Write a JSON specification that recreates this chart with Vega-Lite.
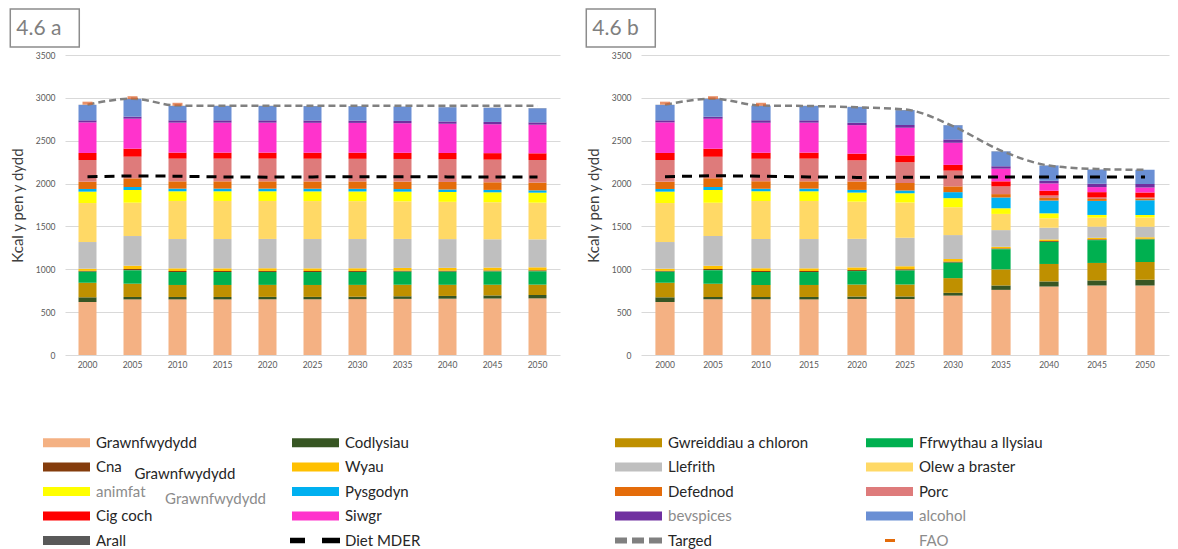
{
  "$schema": "https://vega.github.io/schema/vega-lite/v6.json",
  "background": "white",
  "padding": {"left": 10, "top": 18, "right": 5, "bottom": 0},
  "config": {
    "font": "Lato",
    "view": {"stroke": null},
    "legend": {"labelFont": "Lato"}
  },
  "datasets": {
    "cats": [
      {"cat":"Grawnfwydydd","k":1},{"cat":"Codlysiau","k":2},{"cat":"Gwreiddiau a chloron","k":3},{"cat":"Ffrwythau a llysiau","k":4},{"cat":"Cna","k":5},{"cat":"Wyau","k":6},{"cat":"Llefrith","k":7},{"cat":"Olew a braster","k":8},{"cat":"animfat","k":9},{"cat":"Pysgodyn","k":10},{"cat":"Defednod","k":11},{"cat":"Porc","k":12},{"cat":"Cig coch","k":13},{"cat":"Siwgr","k":14},{"cat":"bevspices","k":15},{"cat":"alcohol","k":16},{"cat":"Arall","k":17}
    ],
    "bars": [
      {"p":"a","yr":"2000","Grawnfwydydd":618,"Codlysiau":55,"Cna":10,"Gwreiddiau a chloron":170,"Ffrwythau a llysiau":129,"Wyau":25,"Llefrith":311,"Olew a braster":455,"animfat":133,"Pysgodyn":31,"Defednod":85,"Porc":253,"Cig coch":82,"Siwgr":357,"bevspices":24,"alcohol":179,"Arall":2},
      {"p":"a","yr":"2005","Grawnfwydydd":649,"Codlysiau":28,"Cna":15,"Gwreiddiau a chloron":155,"Ffrwythau a llysiau":156,"Wyau":39,"Llefrith":346,"Olew a braster":389,"animfat":148,"Pysgodyn":35,"Defednod":101,"Porc":253,"Cig coch":93,"Siwgr":350,"bevspices":24,"alcohol":206,"Arall":2},
      {"p":"a","yr":"2010","Grawnfwydydd":649,"Codlysiau":28,"Cna":12,"Gwreiddiau a chloron":140,"Ffrwythau a llysiau":151,"Wyau":31,"Llefrith":342,"Olew a braster":444,"animfat":113,"Pysgodyn":31,"Defednod":85,"Porc":265,"Cig coch":70,"Siwgr":350,"bevspices":27,"alcohol":167,"Arall":2},
      {"p":"a","yr":"2015","Grawnfwydydd":649,"Codlysiau":28,"Cna":12,"Gwreiddiau a chloron":140,"Ffrwythau a llysiau":151,"Wyau":31,"Llefrith":342,"Olew a braster":444,"animfat":113,"Pysgodyn":31,"Defednod":85,"Porc":265,"Cig coch":70,"Siwgr":350,"bevspices":27,"alcohol":167,"Arall":2},
      {"p":"a","yr":"2020","Grawnfwydydd":650,"Codlysiau":28,"Cna":12,"Gwreiddiau a chloron":140,"Ffrwythau a llysiau":151,"Wyau":31,"Llefrith":342,"Olew a braster":443,"animfat":113,"Pysgodyn":31,"Defednod":85,"Porc":265,"Cig coch":70,"Siwgr":350,"bevspices":27,"alcohol":167,"Arall":2},
      {"p":"a","yr":"2025","Grawnfwydydd":650,"Codlysiau":28,"Cna":12,"Gwreiddiau a chloron":139,"Ffrwythau a llysiau":151,"Wyau":31,"Llefrith":342,"Olew a braster":443,"animfat":113,"Pysgodyn":31,"Defednod":85,"Porc":265,"Cig coch":70,"Siwgr":349,"bevspices":27,"alcohol":167,"Arall":2},
      {"p":"a","yr":"2030","Grawnfwydydd":652,"Codlysiau":28,"Cna":12,"Gwreiddiau a chloron":138,"Ffrwythau a llysiau":151,"Wyau":31,"Llefrith":341,"Olew a braster":442,"animfat":113,"Pysgodyn":31,"Defednod":86,"Porc":264,"Cig coch":71,"Siwgr":348,"bevspices":27,"alcohol":167,"Arall":2},
      {"p":"a","yr":"2035","Grawnfwydydd":655,"Codlysiau":30,"Cna":12,"Gwreiddiau a chloron":135,"Ffrwythau a llysiau":152,"Wyau":32,"Llefrith":338,"Olew a braster":438,"animfat":114,"Pysgodyn":30,"Defednod":87,"Porc":264,"Cig coch":72,"Siwgr":345,"bevspices":27,"alcohol":166,"Arall":2},
      {"p":"a","yr":"2040","Grawnfwydydd":657,"Codlysiau":32,"Cna":12,"Gwreiddiau a chloron":130,"Ffrwythau a llysiau":153,"Wyau":33,"Llefrith":335,"Olew a braster":435,"animfat":115,"Pysgodyn":29,"Defednod":88,"Porc":264,"Cig coch":74,"Siwgr":341,"bevspices":27,"alcohol":165,"Arall":2},
      {"p":"a","yr":"2045","Grawnfwydydd":659,"Codlysiau":36,"Cna":12,"Gwreiddiau a chloron":125,"Ffrwythau a llysiau":154,"Wyau":34,"Llefrith":330,"Olew a braster":432,"animfat":116,"Pysgodyn":28,"Defednod":89,"Porc":264,"Cig coch":76,"Siwgr":337,"bevspices":27,"alcohol":165,"Arall":2},
      {"p":"a","yr":"2050","Grawnfwydydd":661,"Codlysiau":39,"Cna":12,"Gwreiddiau a chloron":121,"Ffrwythau a llysiau":155,"Wyau":35,"Llefrith":326,"Olew a braster":428,"animfat":117,"Pysgodyn":27,"Defednod":90,"Porc":264,"Cig coch":78,"Siwgr":334,"bevspices":27,"alcohol":164,"Arall":2},
      {"p":"b","yr":"2000","Grawnfwydydd":618,"Codlysiau":55,"Cna":10,"Gwreiddiau a chloron":170,"Ffrwythau a llysiau":129,"Wyau":25,"Llefrith":311,"Olew a braster":455,"animfat":133,"Pysgodyn":31,"Defednod":85,"Porc":253,"Cig coch":82,"Siwgr":357,"bevspices":24,"alcohol":179,"Arall":2},
      {"p":"b","yr":"2005","Grawnfwydydd":649,"Codlysiau":28,"Cna":15,"Gwreiddiau a chloron":155,"Ffrwythau a llysiau":156,"Wyau":39,"Llefrith":346,"Olew a braster":389,"animfat":148,"Pysgodyn":35,"Defednod":101,"Porc":253,"Cig coch":93,"Siwgr":350,"bevspices":24,"alcohol":206,"Arall":2},
      {"p":"b","yr":"2010","Grawnfwydydd":649,"Codlysiau":28,"Cna":12,"Gwreiddiau a chloron":140,"Ffrwythau a llysiau":151,"Wyau":31,"Llefrith":342,"Olew a braster":444,"animfat":113,"Pysgodyn":31,"Defednod":85,"Porc":265,"Cig coch":70,"Siwgr":350,"bevspices":27,"alcohol":167,"Arall":2},
      {"p":"b","yr":"2015","Grawnfwydydd":649,"Codlysiau":28,"Cna":12,"Gwreiddiau a chloron":140,"Ffrwythau a llysiau":151,"Wyau":31,"Llefrith":342,"Olew a braster":444,"animfat":113,"Pysgodyn":31,"Defednod":85,"Porc":265,"Cig coch":70,"Siwgr":350,"bevspices":27,"alcohol":167,"Arall":2},
      {"p":"b","yr":"2020","Grawnfwydydd":654,"Codlysiau":28,"Cna":12,"Gwreiddiau a chloron":140,"Ffrwythau a llysiau":157,"Wyau":31,"Llefrith":333,"Olew a braster":434,"animfat":106,"Pysgodyn":31,"Defednod":98,"Porc":247,"Cig coch":78,"Siwgr":333,"bevspices":27,"alcohol":184,"Arall":2},
      {"p":"b","yr":"2025","Grawnfwydydd":654,"Codlysiau":28,"Cna":13,"Gwreiddiau a chloron":141,"Ffrwythau a llysiau":164,"Wyau":34,"Llefrith":333,"Olew a braster":412,"animfat":109,"Pysgodyn":32,"Defednod":86,"Porc":243,"Cig coch":78,"Siwgr":325,"bevspices":32,"alcohol":172,"Arall":2},
      {"p":"b","yr":"2030","Grawnfwydydd":693,"Codlysiau":32,"Cna":13,"Gwreiddiau a chloron":172,"Ffrwythau a llysiau":180,"Wyau":30,"Llefrith":279,"Olew a braster":325,"animfat":106,"Pysgodyn":70,"Defednod":67,"Porc":184,"Cig coch":67,"Siwgr":258,"bevspices":39,"alcohol":165,"Arall":2},
      {"p":"b","yr":"2035","Grawnfwydydd":760,"Codlysiau":51,"Cna":10,"Gwreiddiau a chloron":188,"Ffrwythau a llysiau":235,"Wyau":18,"Llefrith":195,"Olew a braster":189,"animfat":66,"Pysgodyn":126,"Defednod":39,"Porc":90,"Cig coch":59,"Siwgr":148,"bevspices":28,"alcohol":173,"Arall":2},
      {"p":"b","yr":"2040","Grawnfwydydd":799,"Codlysiau":59,"Cna":10,"Gwreiddiau a chloron":204,"Ffrwythau a llysiau":258,"Wyau":18,"Llefrith":137,"Olew a braster":110,"animfat":58,"Pysgodyn":149,"Defednod":30,"Porc":29,"Cig coch":55,"Siwgr":86,"bevspices":31,"alcohol":177,"Arall":2},
      {"p":"b","yr":"2045","Grawnfwydydd":811,"Codlysiau":59,"Cna":10,"Gwreiddiau a chloron":204,"Ffrwythau a llysiau":266,"Wyau":17,"Llefrith":130,"Olew a braster":105,"animfat":32,"Pysgodyn":164,"Defednod":22,"Porc":18,"Cig coch":62,"Siwgr":59,"bevspices":39,"alcohol":165,"Arall":2},
      {"p":"b","yr":"2050","Grawnfwydydd":811,"Codlysiau":67,"Cna":8,"Gwreiddiau a chloron":207,"Ffrwythau a llysiau":263,"Wyau":19,"Llefrith":122,"Olew a braster":106,"animfat":31,"Pysgodyn":172,"Defednod":20,"Porc":12,"Cig coch":58,"Siwgr":59,"bevspices":39,"alcohol":166,"Arall":2}
    ],
    "lines": [
      {"p":"a","s":"Targed","yr":"2000","v":2920},{"p":"a","s":"Targed","yr":"2005","v":2990},{"p":"a","s":"Targed","yr":"2010","v":2910},{"p":"a","s":"Targed","yr":"2015","v":2908},{"p":"a","s":"Targed","yr":"2020","v":2908},{"p":"a","s":"Targed","yr":"2025","v":2908},{"p":"a","s":"Targed","yr":"2030","v":2908},{"p":"a","s":"Targed","yr":"2035","v":2908},{"p":"a","s":"Targed","yr":"2040","v":2908},{"p":"a","s":"Targed","yr":"2045","v":2908},{"p":"a","s":"Targed","yr":"2050","v":2908},
      {"p":"b","s":"Targed","yr":"2000","v":2920},{"p":"b","s":"Targed","yr":"2005","v":2990},{"p":"b","s":"Targed","yr":"2010","v":2910},{"p":"b","s":"Targed","yr":"2015","v":2905},{"p":"b","s":"Targed","yr":"2020","v":2890},{"p":"b","s":"Targed","yr":"2025","v":2865},{"p":"b","s":"Targed","yr":"2030","v":2670},{"p":"b","s":"Targed","yr":"2035","v":2385},{"p":"b","s":"Targed","yr":"2040","v":2210},{"p":"b","s":"Targed","yr":"2045","v":2170},{"p":"b","s":"Targed","yr":"2050","v":2160},
      {"p":"a","s":"Diet MDER","yr":"2000","v":2080},{"p":"a","s":"Diet MDER","yr":"2005","v":2090},{"p":"a","s":"Diet MDER","yr":"2010","v":2086},{"p":"a","s":"Diet MDER","yr":"2015","v":2078},{"p":"a","s":"Diet MDER","yr":"2020","v":2075},{"p":"a","s":"Diet MDER","yr":"2025","v":2078},{"p":"a","s":"Diet MDER","yr":"2030","v":2080},{"p":"a","s":"Diet MDER","yr":"2035","v":2080},{"p":"a","s":"Diet MDER","yr":"2040","v":2078},{"p":"a","s":"Diet MDER","yr":"2045","v":2078},{"p":"a","s":"Diet MDER","yr":"2050","v":2078},
      {"p":"b","s":"Diet MDER","yr":"2000","v":2080},{"p":"b","s":"Diet MDER","yr":"2005","v":2092},{"p":"b","s":"Diet MDER","yr":"2010","v":2086},{"p":"b","s":"Diet MDER","yr":"2015","v":2078},{"p":"b","s":"Diet MDER","yr":"2020","v":2072},{"p":"b","s":"Diet MDER","yr":"2025","v":2074},{"p":"b","s":"Diet MDER","yr":"2030","v":2076},{"p":"b","s":"Diet MDER","yr":"2035","v":2078},{"p":"b","s":"Diet MDER","yr":"2040","v":2076},{"p":"b","s":"Diet MDER","yr":"2045","v":2076},{"p":"b","s":"Diet MDER","yr":"2050","v":2076},
      {"p":"a","s":"FAO","yr":"2000","v":2938},{"p":"a","s":"FAO","yr":"2005","v":3002},{"p":"a","s":"FAO","yr":"2010","v":2925},
      {"p":"b","s":"FAO","yr":"2000","v":2938},{"p":"b","s":"FAO","yr":"2005","v":3002},{"p":"b","s":"FAO","yr":"2010","v":2925}
    ]
  },
  "bounds": "flush",
  "spacing": 81,
  "resolve": {"scale": {"color": "independent", "x": "independent", "y": "independent"}, "legend": {"color": "independent"}},
  "hconcat": [
    {
      "width": 495,
      "height": 300,
      "title": {"text": "4.6 a", "anchor": "start", "frame": "bounds", "offset": 21, "fontSize": 21, "fontWeight": "normal", "color": "#7f7f7f", "font": "Lato", "dx": 6, "dy": 9,
        "encode": {"group": {"update": {"stroke": {"value": "#8c8c8c"}, "strokeWidth": {"value": 1.5}, "width": {"value": 69}, "height": {"value": 38}}}}},
      "encoding": {
        "x": {"field": "yr", "type": "ordinal", "scale": {"paddingInner": 0.6, "paddingOuter": 0.3},
          "axis": {"title": null, "labelAngle": 0, "domain": false, "ticks": false, "grid": false, "labelPadding": 5, "labelFontSize": 8.5, "labelColor": "#595959"}},
        "y": {"field": "v", "type": "quantitative", "scale": {"domain": [0, 3500], "nice": false},
          "axis": {"values": [0,500,1000,1500,2000,2500,3000,3500], "format": "d", "title": "Kcal y pen y dydd", "titleFontSize": 15, "titleFontWeight": "normal", "titleColor": "#404040", "titlePadding": 10, "domain": false, "ticks": false, "labelPadding": 10, "labelFontSize": 8.5, "labelColor": "#595959", "grid": true, "gridColor": "#d9d9d9"}}
      },
      "layer": [
        {
          "data": {"name": "bars"},
          "transform": [
            {"filter": "datum.p === 'a'"},
            {"fold": ["Grawnfwydydd","Codlysiau","Cna","Gwreiddiau a chloron","Ffrwythau a llysiau","Wyau","Llefrith","Olew a braster","animfat","Pysgodyn","Defednod","Porc","Cig coch","Siwgr","bevspices","alcohol","Arall"], "as": ["cat", "v"]},
            {"lookup": "cat", "from": {"data": {"name": "cats"}, "key": "cat", "fields": ["k"]}}
          ],
          "mark": {"type": "bar"},
          "encoding": {
            "order": {"field": "k", "type": "quantitative", "sort": "ascending"},
            "color": {"field": "cat", "type": "nominal",
              "scale": {
                "domain": ["Grawnfwydydd","Codlysiau","Gwreiddiau a chloron","Ffrwythau a llysiau","Cna","Wyau","Llefrith","Olew a braster","animfat","Pysgodyn","Defednod","Porc","Cig coch","Siwgr","bevspices","alcohol","Arall","Diet MDER","Targed","FAO"],
                "range": ["#F4B183","#375623","#BF9000","#00B050","#843C0C","#FFC000","#BFBFBF","#FFD966","#FFFF00","#00B0F0","#E46C0A","#DE7B7B","#FF0000","#FF33CC","#7030A0","#6A8FD4","#595959","#000000","#808080","#E46C0A"]
              },
              "legend": {
                "values": ["Grawnfwydydd","Cna","animfat","Cig coch","Arall","Codlysiau","Wyau","Pysgodyn","Siwgr","Diet MDER"],
                "orient": "none", "legendX": -22, "legendY": 380, "columns": 2, "columnPadding": 23, "rowPadding": 1.5,
                "title": null, "symbolSize": 100, "symbolStrokeWidth": 0, "symbolType": "M-1.5,-0.9H7.9V0.9H-1.5Z",
                "labelOffset": 38, "labelFontSize": 15, "labelLimit": 400, "labelColor": "#262626",
                "labelExpr": "datum.value === 'Cna' ? ['Cna', '\u200b\u00a0\u00a0\u00a0\u00a0\u00a0\u00a0\u00a0\u00a0\u00a0\u00a0Grawnfwydydd'] : datum.value === 'animfat' ? ['animfat', '\u200b\u00a0\u00a0\u00a0\u00a0\u00a0\u00a0\u00a0\u00a0\u00a0\u00a0\u00a0\u00a0\u00a0\u00a0\u00a0\u00a0\u00a0\u00a0Grawnfwydydd'] : [datum.value, '']",
                "encode": {
                  "symbols": {"update": {"shape": {"signal": "datum.value === 'Diet MDER' ? 'M-1.9,-0.55H1.1V0.55H-1.9Z M4.5,-0.55H8.1V0.55H4.5Z' : datum.value === 'Targed' ? 'M-1.5,-0.6H0.9V0.6H-1.5Z M1.9,-0.6H4.3V0.6H1.9Z M5.3,-0.6H7.9V0.6H5.3Z' : datum.value === 'FAO' ? 'M2.3,-0.3H4.3V0.3H2.3Z' : 'M-1.5,-0.9H7.9V0.9H-1.5Z'"}}},
                  "labels": {"update": {"lineHeight": {"value": 7}, "fill": {"signal": "indexof(['animfat','bevspices','alcohol','FAO'], datum.value) >= 0 ? '#8c8c8c' : '#262626'"}}}
                }
              }
            }
          }
        },
        {
          "data": {"name": "lines"},
          "transform": [{"filter": "datum.p === 'a' && datum.s === 'Targed'"}],
          "mark": {"type": "line", "color": "#808080", "strokeWidth": 2.5, "strokeDash": [7, 4], "interpolate": "monotone"},
          "encoding": {}
        },
        {
          "data": {"name": "lines"},
          "transform": [{"filter": "datum.p === 'a' && datum.s === 'Diet MDER'"}],
          "mark": {"type": "line", "color": "#000000", "strokeWidth": 3, "strokeDash": [10, 7]},
          "encoding": {}
        },
        {
          "data": {"name": "lines"},
          "transform": [{"filter": "datum.p === 'a' && datum.s === 'FAO'"}],
          "mark": {"type": "tick", "color": "#E0622A", "thickness": 3, "size": 10},
          "encoding": {}
        }
      ]
    },
    {
      "width": 528,
      "height": 300,
      "title": {"text": "4.6 b", "anchor": "start", "frame": "bounds", "offset": 21, "fontSize": 21, "fontWeight": "normal", "color": "#7f7f7f", "font": "Lato", "dx": 6, "dy": 9,
        "encode": {"group": {"update": {"stroke": {"value": "#8c8c8c"}, "strokeWidth": {"value": 1.5}, "width": {"value": 69}, "height": {"value": 38}}}}},
      "encoding": {
        "x": {"field": "yr", "type": "ordinal", "scale": {"paddingInner": 0.6, "paddingOuter": 0.3},
          "axis": {"title": null, "labelAngle": 0, "domain": false, "ticks": false, "grid": false, "labelPadding": 5, "labelFontSize": 8.5, "labelColor": "#595959"}},
        "y": {"field": "v", "type": "quantitative", "scale": {"domain": [0, 3500], "nice": false},
          "axis": {"values": [0,500,1000,1500,2000,2500,3000,3500], "format": "d", "title": "Kcal y pen y dydd", "titleFontSize": 15, "titleFontWeight": "normal", "titleColor": "#404040", "titlePadding": 10, "domain": false, "ticks": false, "labelPadding": 10, "labelFontSize": 8.5, "labelColor": "#595959", "grid": true, "gridColor": "#d9d9d9"}}
      },
      "layer": [
        {
          "data": {"name": "bars"},
          "transform": [
            {"filter": "datum.p === 'b'"},
            {"fold": ["Grawnfwydydd","Codlysiau","Cna","Gwreiddiau a chloron","Ffrwythau a llysiau","Wyau","Llefrith","Olew a braster","animfat","Pysgodyn","Defednod","Porc","Cig coch","Siwgr","bevspices","alcohol","Arall"], "as": ["cat", "v"]},
            {"lookup": "cat", "from": {"data": {"name": "cats"}, "key": "cat", "fields": ["k"]}}
          ],
          "mark": {"type": "bar"},
          "encoding": {
            "order": {"field": "k", "type": "quantitative", "sort": "ascending"},
            "color": {"field": "cat", "type": "nominal",
              "scale": {
                "domain": ["Grawnfwydydd","Codlysiau","Gwreiddiau a chloron","Ffrwythau a llysiau","Cna","Wyau","Llefrith","Olew a braster","animfat","Pysgodyn","Defednod","Porc","Cig coch","Siwgr","bevspices","alcohol","Arall","Diet MDER","Targed","FAO"],
                "range": ["#F4B183","#375623","#BF9000","#00B050","#843C0C","#FFC000","#BFBFBF","#FFD966","#FFFF00","#00B0F0","#E46C0A","#DE7B7B","#FF0000","#FF33CC","#7030A0","#6A8FD4","#595959","#000000","#808080","#E46C0A"]
              },
              "legend": {
                "values": ["Gwreiddiau a chloron","Llefrith","Defednod","bevspices","Targed","Ffrwythau a llysiau","Olew a braster","Porc","alcohol","FAO"],
                "orient": "none", "legendX": -26, "legendY": 380, "columns": 2, "columnPadding": 57, "rowPadding": 1.5,
                "title": null, "symbolSize": 100, "symbolStrokeWidth": 0, "symbolType": "M-1.5,-0.9H7.9V0.9H-1.5Z",
                "labelOffset": 38, "labelFontSize": 15, "labelLimit": 400, "labelColor": "#262626",
                "labelExpr": "[datum.value, '']",
                "encode": {
                  "symbols": {"update": {"shape": {"signal": "datum.value === 'Diet MDER' ? 'M-1.9,-0.55H1.1V0.55H-1.9Z M4.5,-0.55H8.1V0.55H4.5Z' : datum.value === 'Targed' ? 'M-1.5,-0.6H0.9V0.6H-1.5Z M1.9,-0.6H4.3V0.6H1.9Z M5.3,-0.6H7.9V0.6H5.3Z' : datum.value === 'FAO' ? 'M2.3,-0.3H4.3V0.3H2.3Z' : 'M-1.5,-0.9H7.9V0.9H-1.5Z'"}}},
                  "labels": {"update": {"lineHeight": {"value": 7}, "fill": {"signal": "indexof(['animfat','bevspices','alcohol','FAO'], datum.value) >= 0 ? '#8c8c8c' : '#262626'"}}}
                }
              }
            }
          }
        },
        {
          "data": {"name": "lines"},
          "transform": [{"filter": "datum.p === 'b' && datum.s === 'Targed'"}],
          "mark": {"type": "line", "color": "#808080", "strokeWidth": 2.5, "strokeDash": [7, 4], "interpolate": "monotone"},
          "encoding": {}
        },
        {
          "data": {"name": "lines"},
          "transform": [{"filter": "datum.p === 'b' && datum.s === 'Diet MDER'"}],
          "mark": {"type": "line", "color": "#000000", "strokeWidth": 3, "strokeDash": [10, 7]},
          "encoding": {}
        },
        {
          "data": {"name": "lines"},
          "transform": [{"filter": "datum.p === 'b' && datum.s === 'FAO'"}],
          "mark": {"type": "tick", "color": "#E0622A", "thickness": 3, "size": 10},
          "encoding": {}
        }
      ]
    }
  ]
}
